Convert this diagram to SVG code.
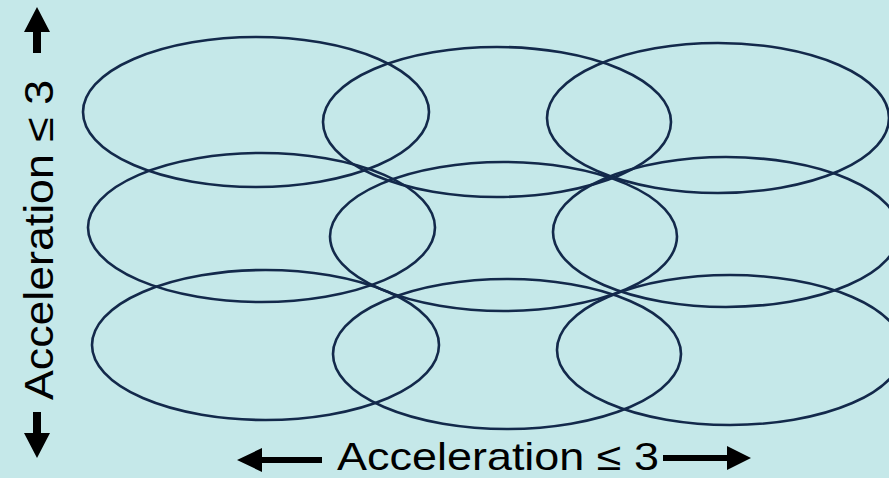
<svg xmlns="http://www.w3.org/2000/svg" width="889" height="478" viewBox="0 0 889 478">
<defs>
<style>
.e{fill:none;stroke:#13294B;stroke-width:2.6}
.t{font-family:"Liberation Sans",Arial,sans-serif;font-size:41px;fill:#000}
.h{font-size:39px}
.a{fill:#000}
</style>
</defs>
<rect width="889" height="478" fill="#C5E8E9"/>
<g id="region-1-1"><ellipse class="e" cx="256" cy="112" rx="173" ry="75"/></g>
<g id="region-1-2"><ellipse class="e" cx="497" cy="122" rx="174" ry="75"/></g>
<g id="region-1-3"><ellipse class="e" cx="718" cy="118" rx="171" ry="75"/></g>
<g id="region-2-1"><ellipse class="e" cx="261.5" cy="227.5" rx="173.5" ry="74.5"/></g>
<g id="region-2-2"><ellipse class="e" cx="503.5" cy="236.5" rx="173.5" ry="74.5"/></g>
<g id="region-2-3"><ellipse class="e" cx="726" cy="232" rx="173" ry="75"/></g>
<g id="region-3-1"><ellipse class="e" cx="265.5" cy="345" rx="173.5" ry="75"/></g>
<g id="region-3-2"><ellipse class="e" cx="507" cy="354" rx="174" ry="75"/></g>
<g id="region-3-3"><ellipse class="e" cx="730" cy="350" rx="173" ry="75"/></g>
<g id="axes">
<polygon class="a" points="237,460 262,448 262,457 322,457 322,463 262,463 262,472"/>
<polygon class="a" points="751,458 727,446 727,455 663,455 663,461 727,461 727,470"/>
<polygon class="a" points="37,7 50,32 41,32 41,53 33,53 33,32 24,32"/>
<polygon class="a" points="37,458 50,433 41,433 41,412 33,412 33,433 24,433"/>
<text class="t h" x="337" y="470" textLength="322" lengthAdjust="spacingAndGlyphs">Acceleration ≤ 3</text>
<text class="t" transform="translate(53,400) rotate(-90)" x="0" y="0" textLength="320" lengthAdjust="spacingAndGlyphs">Acceleration ≤ 3</text>
</g>
</svg>
